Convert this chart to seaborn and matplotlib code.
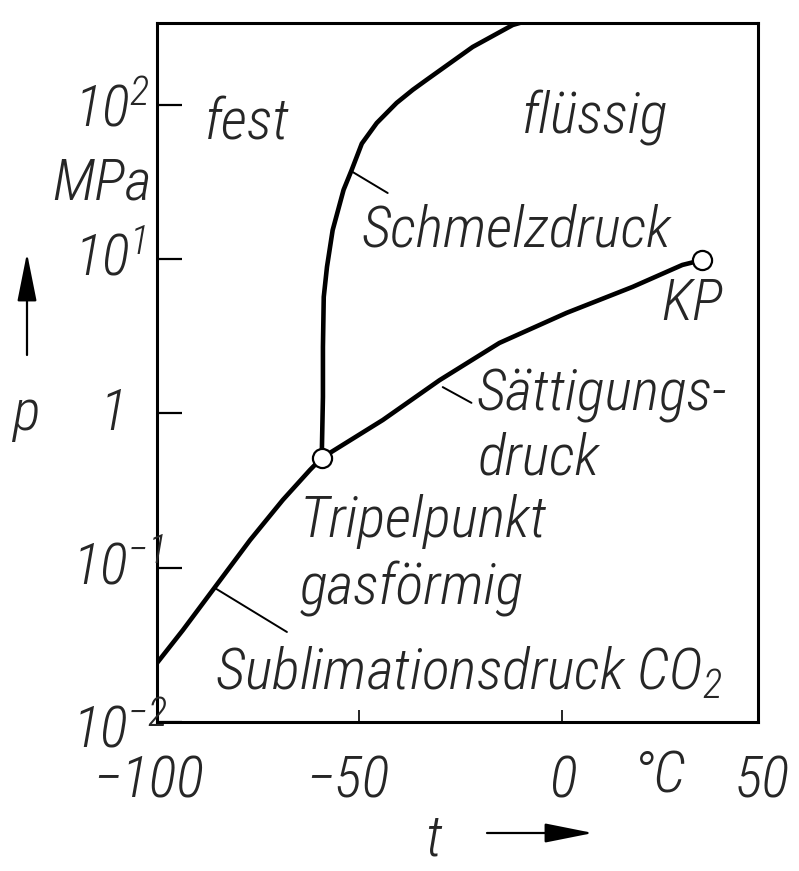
import numpy as np
import pandas as pd
import matplotlib
matplotlib.use("Agg")
import matplotlib.pyplot as plt
import matplotlib.transforms as mtransforms
from matplotlib import font_manager
from matplotlib.ticker import NullLocator
import seaborn as sns

# ---------------- data ----------------
subl_t = [-100.0, -93.6, -86.2, -77.0, -68.9, -62.2, -59.3]
subl_p = [0.0241, 0.0394, 0.0717, 0.151, 0.275, 0.43, 0.514]

melt_t = [-59.3, -59.0, -59.0, -58.8, -58.0, -56.6, -53.9, -51.9, -49.4,
          -45.7, -40.8, -36.8, -33.4, -22.0, -12.1, -7.9]
melt_p = [0.514, 1.28, 2.69, 5.68, 8.9, 15.4, 28.1, 37.8, 56.0,
          76.2, 102.8, 125.0, 145.0, 237.0, 329.0, 354.0]

sat_t = [-59.3, -44.2, -30.2, -15.4, 1.2, 17.5, 29.8, 34.7]
sat_p = [0.514, 0.906, 1.64, 2.86, 4.48, 6.60, 9.16, 9.86]

point_names = ["Tripelpunkt", "KP"]
point_t = [-59.3, 34.7]
point_p = [0.514, 9.86]

ytick_vals = [100, 10, 1, 0.1, 0.01]
ytick_labels = ["$10^{2}$", "$10^{1}$", "1", "$10^{-1}$", "$10^{-2}$"]
xtick_vals = [-100, -50, 0, 50]
xtick_labels = ["\u2212100", "\u221250", "0", "50"]
x_unit = "°C"
y_unit = "MPa"

region_labels = ["fest", "flüssig", "Schmelzdruck", "KP", "Sättigungs-", "druck",
                 "Tripelpunkt", "gasförmig", "Sublimationsdruck CO$_2$"]
region_t = [-88.2, -9.9, -49.4, 24.6, -21.0, -20.8, -64.7, -64.7, -85.7]
region_p = [59.2, 65.6, 12.0, 4.03, 1.05, 0.40, 0.158, 0.0573, 0.0164]

leader_t = [(-51.9, -43.0), (-29.4, -22.3), (-85.7, -67.9)]
leader_p = [(37.0, 26.8), (1.48, 1.17), (0.0738, 0.0383)]

# ---------------- style ----------------
sns.set_theme(style="white")
names = {f.name for f in font_manager.fontManager.ttflist}
FONT = "DejaVu Sans"
for cand in ["Liberation Sans Narrow", "Roboto Condensed", "DejaVu Sans Condensed",
             "Liberation Sans"]:
    if cand in names:
        FONT = cand
        break
has_light = any(f.name == FONT and isinstance(f.weight, int) and f.weight <= 300
                for f in font_manager.fontManager.ttflist)
WEIGHT = "light" if has_light else "normal"

plt.rcParams["font.family"] = [FONT, "DejaVu Sans"]
plt.rcParams["font.style"] = "italic"
plt.rcParams["font.weight"] = WEIGHT
plt.rcParams["mathtext.fontset"] = "custom"
plt.rcParams["mathtext.rm"] = f"{FONT}:italic:{WEIGHT}"
plt.rcParams["mathtext.it"] = f"{FONT}:italic:{WEIGHT}"
plt.rcParams["mathtext.sf"] = f"{FONT}:italic:{WEIGHT}"
plt.rcParams["mathtext.default"] = "rm"

FS = 42

fig = plt.figure(figsize=(7.99, 8.71), dpi=100)
ax = fig.add_axes([0.1965, 0.1711, 0.7522, 0.8025])
ax.set_yscale("log")

df_subl = pd.DataFrame({"t": subl_t, "p": subl_p})
df_melt = pd.DataFrame({"t": melt_t, "p": melt_p})
df_sat = pd.DataFrame({"t": sat_t, "p": sat_p})
for d in (df_subl, df_melt, df_sat):
    sns.lineplot(data=d, x="t", y="p", ax=ax, color="black", lw=3.3,
                 estimator=None, sort=False, zorder=3)

for lt, lp in zip(leader_t, leader_p):
    ax.plot(lt, lp, color="black", lw=1.4, zorder=3)

df_pts = pd.DataFrame({"t": point_t, "p": point_p, "name": point_names})
sns.scatterplot(data=df_pts, x="t", y="p", ax=ax, s=190, color="white",
                edgecolor="black", linewidth=1.6, zorder=5, legend=False)

ax.set_xlim(-100, 48.5)
ax.set_ylim(0.01, 10 ** 2.53)
ax.set_xlabel("")
ax.set_ylabel("")

for sp in ax.spines.values():
    sp.set_visible(True)
    sp.set_linewidth(2.2)
    sp.set_color("black")

ax.yaxis.set_minor_locator(NullLocator())
ax.set_yticks(ytick_vals)
ax.set_yticklabels([])
ax.set_xticks([-50, 0])
ax.set_xticklabels([])
ax.tick_params(axis="y", direction="in", length=18, width=1.6, color="black", left=True)
ax.tick_params(axis="x", direction="in", length=9, width=1.2, color="black", bottom=True)

# y tick labels
ylab_left_px = [74, 74, 100, 72, 72]
ylab_drop_px = [22, 16, 17, 17, 25]
ytrans = mtransforms.blended_transform_factory(fig.transFigure, ax.transData)
for v, lab, lx, dy in zip(ytick_vals, ytick_labels, ylab_left_px, ylab_drop_px):
    off = mtransforms.ScaledTranslation(0, -dy / 100, fig.dpi_scale_trans)
    ax.text(lx / 799, v, lab, transform=ytrans + off, ha="left", va="baseline",
            fontsize=FS, clip_on=False)
ax.text(52 / 799, 1 - 199 / 871, y_unit, transform=fig.transFigure, ha="left",
        va="baseline", fontsize=FS)

# x tick labels
xtrans = mtransforms.blended_transform_factory(ax.transData, fig.transFigure)
xlab_dx_px = [-8, -12, 1, -2]
for v, lab, dx in zip(xtick_vals, xtick_labels, xlab_dx_px):
    off = mtransforms.ScaledTranslation(dx / 100, 0, fig.dpi_scale_trans)
    ax.text(v, 1 - 797 / 871, lab, transform=xtrans + off, ha="center",
            va="baseline", fontsize=FS, clip_on=False)
ax.text(24.0, 1 - 792 / 871, x_unit, transform=xtrans, ha="center", va="baseline",
        fontsize=FS, clip_on=False)

# region / curve labels
for lab, tt, pp in zip(region_labels, region_t, region_p):
    ax.text(tt, pp, lab, ha="left", va="baseline", fontsize=FS, zorder=4)

# axis symbols with arrows
fig.text(27 / 799, 1 - 430 / 871, "p", ha="center", va="baseline", fontsize=FS)
fig.text(433 / 799, 1 - 855 / 871, "t", ha="center", va="baseline", fontsize=FS)
arrow_kw = dict(arrowstyle="-|>,head_length=1.5,head_width=0.3", color="black",
                lw=1.6, mutation_scale=20, shrinkA=0, shrinkB=0)
fig.add_artist(matplotlib.patches.FancyArrowPatch(
    (27 / 799, 1 - 355 / 871), (27 / 799, 1 - 253 / 871),
    transform=fig.transFigure, **arrow_kw))
fig.add_artist(matplotlib.patches.FancyArrowPatch(
    (487 / 799, 1 - 833 / 871), (593 / 799, 1 - 833 / 871),
    transform=fig.transFigure, **arrow_kw))

fig.savefig("out.png", dpi=100)
